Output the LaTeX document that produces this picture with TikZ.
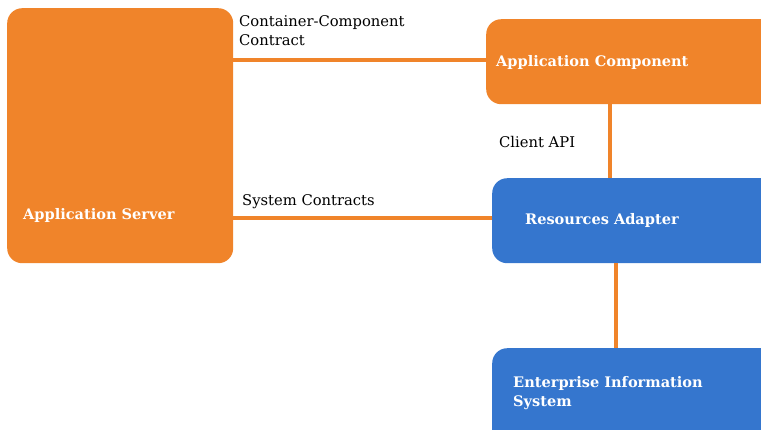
\documentclass[tikz,border=0pt]{standalone}
\usepackage{fontspec}
\setmainfont{DejaVu Serif}
\usetikzlibrary{calc}
\definecolor{orng}{RGB}{240,132,42}
\definecolor{blu}{RGB}{53,118,206}
\tikzset{
  box/.style={rounded corners=15bp, draw=none, anchor=north west, inner sep=0pt},
  obox/.style={box, fill=orng},
  bbox/.style={box, fill=blu},
  boxtext/.style={text=white, font=\bfseries\fontsize{14.6}{19}\selectfont, anchor=west, inner sep=0pt, align=left},
  lbl/.style={text=black, font=\fontsize{14.8}{19}\selectfont, anchor=west, inner sep=0pt, align=left},
  conn/.style={draw=orng, line width=4bp}
}
\begin{document}
\begin{tikzpicture}[x=1bp,y=-1bp]
\useasboundingbox (0,0) rectangle (761,429);
% boxes
\node[obox, minimum width=226bp, minimum height=255bp] (as) at (7,8) {};
\node[obox, minimum width=320bp, minimum height=85bp] (ac) at (486,19) {};
\node[bbox, minimum width=320bp, minimum height=85bp] (ra) at (492,178) {};
\node[bbox, minimum width=320bp, minimum height=120bp] (eis) at (492,348) {};
% connectors
\draw[conn] (as.east |- 0,60) coordinate (c1) -- (c1 -| ac.west);
\draw[conn] (as.east |- 0,218) coordinate (c2) -- (c2 -| ra.west);
\coordinate (c3) at ($(ac.south west)+(124,0)$);
\draw[conn] (c3) -- (c3 |- ra.north);
\coordinate (c4) at ($(ra.south west)+(124,0)$);
\draw[conn] (c4) -- (c4 |- eis.north);
% texts
\node[boxtext] (ast) at (23,215) {Application Server};
\node[boxtext] (act) at (496,62) {Application Component};
\node[boxtext] (rat) at (525,220) {Resources Adapter};
\node[boxtext] (eist) at (513,393.5) {Enterprise Information\\System};
\node[lbl] (l1) at (239,30.5) {Container-Component\\Contract};
\node[lbl] (l2) at (242,201.5) {System Contracts};
\node[lbl] (l3) at (499,142) {Client API};
\end{tikzpicture}
\end{document}
